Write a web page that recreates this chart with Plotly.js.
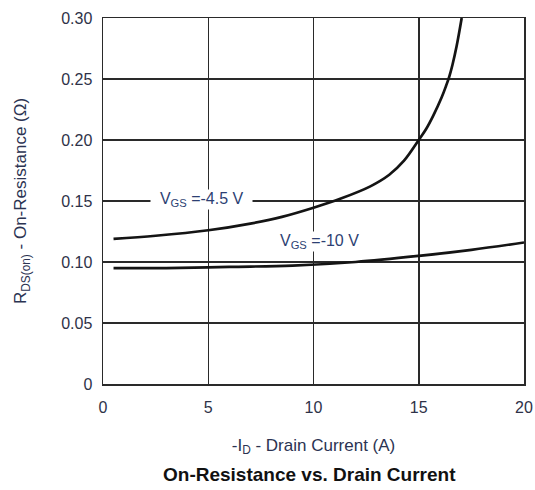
<!DOCTYPE html>
<html>
<head>
<meta charset="utf-8">
<script src="https://cdn.plot.ly/plotly-3.0.1.min.js"></script>
<style>html,body{margin:0;padding:0;background:#fff}#chart{width:535px;height:490px}</style>
</head>
<body>
<div id="chart"></div>
<script>
// -I_D (A) and R_DS(on) (Ohm) for VGS = -4.5 V
const id45 = [0.5, 2.5, 5, 7, 8.5, 10, 11.3, 12.7, 13.6, 14.3, 15, 15.35, 15.69, 16.09, 16.3, 16.45, 16.6, 16.8, 17.04];
const r45  = [0.119, 0.1215, 0.126, 0.1315, 0.137, 0.1445, 0.152, 0.162, 0.1715, 0.183, 0.200, 0.209, 0.220, 0.235, 0.2445, 0.252, 0.2615, 0.277, 0.300];
// VGS = -10 V
const id10 = [0.5, 3, 6, 9, 12, 15, 17.5, 20];
const r10  = [0.095, 0.095, 0.096, 0.097, 0.100, 0.105, 0.110, 0.116];

const xTicks = [0, 5, 10, 15, 20];
const xTickText = ['0', '5', '10', '15', '20'];
const yTicks = [0, 0.05, 0.10, 0.15, 0.20, 0.25, 0.30];
const yTickText = ['0', '0.05', '0.10', '0.15', '0.20', '0.25', '0.30'];

const FONT = 'Liberation Sans, Arial, sans-serif';
const labelColor = '#2d3f73';
const titleColor = '#2b3352';
const lineStyle = {color: '#141414', width: 2.7, shape: 'spline', smoothing: 1};

const traces = [
  {x: id45, y: r45, mode: 'lines', line: lineStyle, hoverinfo: 'skip'},
  {x: id10, y: r10, mode: 'lines', line: lineStyle, hoverinfo: 'skip'}
];

const axisCommon = {
  showgrid: true, gridcolor: '#2a2a2a', gridwidth: 1.5,
  showline: true, linecolor: '#2a2a2a', linewidth: 1.5, mirror: true,
  zeroline: false, ticks: '', fixedrange: true,
  tickfont: {family: FONT, size: 16, color: '#2e3248'}
};

const layout = {
  width: 535, height: 490,
  margin: {l: 103, r: 11, t: 18, b: 106},
  paper_bgcolor: '#fff', plot_bgcolor: '#fff',
  showlegend: false,
  xaxis: Object.assign({}, axisCommon, {
    range: [0, 20], tickvals: xTicks, ticktext: xTickText,
    ticklabelstandoff: 8,
    title: {text: '-I<sub>D</sub> - Drain Current (A)', standoff: 24,
      font: {family: FONT, size: 17, color: titleColor}}
  }),
  yaxis: Object.assign({}, axisCommon, {
    range: [0, 0.30], tickvals: yTicks, ticktext: yTickText,
    ticklabelstandoff: 6,
    title: {text: 'R<sub>DS(on)</sub> - On-Resistance (Ω)', standoff: 30,
      font: {family: FONT, size: 17, color: titleColor}}
  }),
  annotations: [
    {x: 4.68, y: 0.1515, xref: 'x', yref: 'y', text: '&nbsp;&nbsp;V<sub>GS</sub> =-4.5 V&nbsp;&nbsp;', showarrow: false,
     bgcolor: '#fff', borderpad: 0,
     font: {family: FONT, size: 16, color: labelColor}},
    {x: 10.28, y: 0.1165, xref: 'x', yref: 'y', text: 'V<sub>GS</sub> =-10 V', showarrow: false,
     bgcolor: '#fff', borderpad: 0,
     font: {family: FONT, size: 16, color: labelColor}},
    {x: 0.49, y: -0.247, xref: 'paper', yref: 'paper', yanchor: 'middle', xanchor: 'center',
     text: '<b>On-Resistance vs. Drain Current</b>',
     showarrow: false,
     font: {family: FONT, size: 19, color: '#111'}}
  ]
};

Plotly.newPlot('chart', traces, layout, {displayModeBar: false, staticPlot: true});
</script>
</body>
</html>
